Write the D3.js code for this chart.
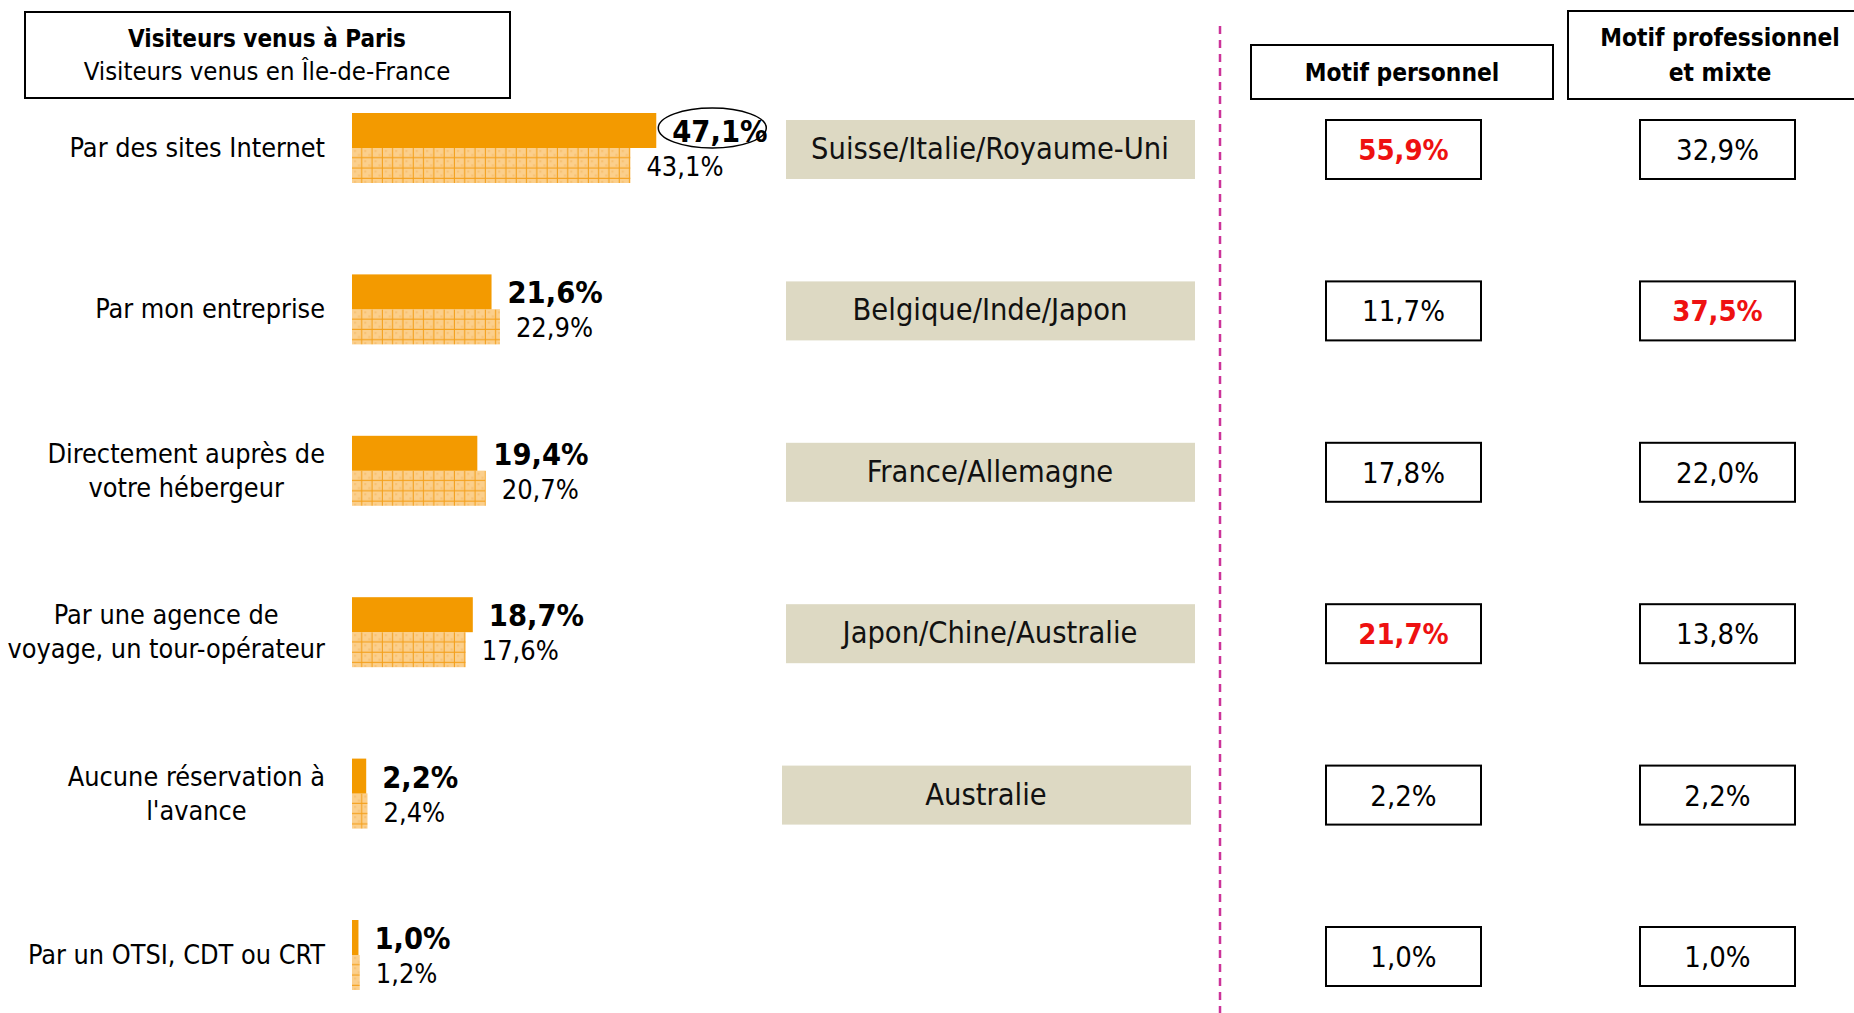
<html>

<script src="https://d3js.org/d3.v7.min.js"></script>

<style>
    body {
        margin: 0;
        background: #fff;
    }

    svg {
        display: block;
        font-family: "DejaVu Sans Condensed", "DejaVu Sans", sans-serif;
        font-stretch: condensed;
    }

    .box {
        fill: #fff;
        stroke: #000;
        stroke-width: 2px;
    }

    .solid {
        fill: #f39a00;
    }

    .pays rect {
        fill: #ddd9c3;
    }

    .sep {
        stroke: #cc3399;
        stroke-width: 2.5px;
        stroke-dasharray: 8 6;
    }
</style>

<svg width=1854 height=1013></svg>

<script>

    let categories = [
        "Par des sites Internet",
        "Par mon entreprise",
        "Directement auprès de\nvotre hébergeur",
        "Par une agence de\nvoyage, un tour-opérateur",
        "Aucune réservation à\nl'avance",
        "Par un OTSI, CDT ou CRT"
    ];
    let paris = [47.1, 21.6, 19.4, 18.7, 2.2, 1.0];
    let idf = [43.1, 22.9, 20.7, 17.6, 2.4, 1.2];
    let pays = ["Suisse/Italie/Royaume-Uni", "Belgique/Inde/Japon", "France/Allemagne", "Japon/Chine/Australie", "Australie", ""];
    let motifPerso = [55.9, 11.7, 17.8, 21.7, 2.2, 1.0];
    let motifPro = [32.9, 37.5, 22.0, 13.8, 2.2, 1.0];
    let persoRouge = [true, false, false, true, false, false];
    let proRouge = [false, true, false, false, false, false];
    let entoure = 0;   // valeur Paris entourée

    let svg = d3.select('svg');

    let fr = d3.formatLocale({decimal: ",", thousands: " ", grouping: [3], currency: ["", " €"]});
    let pct = v => fr.format(".1f")(v) + "%";

    let x = d3.scaleLinear().domain([0, 50]).range([352, 675]);
    let y = d3.scalePoint().domain(d3.range(categories.length)).range([148, 955]);

    // motif quadrillé des barres Île-de-France
    let defs = svg.append('defs');
    let pat = defs.append('pattern')
        .attr('id', 'grille')
        .attr('patternUnits', 'userSpaceOnUse')
        .attr('x', 352).attr('y', 0)
        .attr('width', 10.3).attr('height', 10.3);
    pat.append('rect').attr('width', 10.3).attr('height', 10.3).attr('fill', '#fbcf8c');
    pat.append('rect').attr('x', 2).attr('y', 2).attr('width', 2).attr('height', 2).attr('fill', '#f8c070');
    pat.append('rect').attr('x', 6).attr('y', 6).attr('width', 2).attr('height', 2).attr('fill', '#f8c070');
    pat.append('path').attr('d', 'M10.3,0V10.3M0,10.3H10.3')
        .attr('stroke', '#f4a11e').attr('stroke-width', 2.2).attr('fill', 'none');

    // en-tête gauche
    svg.append('rect').attr('class', 'box')
        .attr('x', 25).attr('y', 12).attr('width', 485).attr('height', 86);
    svg.append('text').attr('x', 267).attr('y', 47)
        .attr('text-anchor', 'middle').attr('font-size', 24).attr('font-weight', 'bold')
        .text('Visiteurs venus à Paris');
    svg.append('text').attr('x', 267).attr('y', 80)
        .attr('text-anchor', 'middle').attr('font-size', 25.5)
        .text('Visiteurs venus en Île-de-France');

    // en-têtes droite
    svg.append('rect').attr('class', 'box')
        .attr('x', 1251).attr('y', 45).attr('width', 302).attr('height', 54);
    svg.append('text').attr('x', 1402).attr('y', 81)
        .attr('text-anchor', 'middle').attr('font-size', 24.3).attr('font-weight', 'bold')
        .text('Motif personnel');
    svg.append('rect').attr('class', 'box')
        .attr('x', 1568).attr('y', 11).attr('width', 310).attr('height', 88);
    svg.append('text').attr('x', 1720).attr('y', 46)
        .attr('text-anchor', 'middle').attr('font-size', 24.3).attr('font-weight', 'bold')
        .text('Motif professionnel');
    svg.append('text').attr('x', 1720).attr('y', 81)
        .attr('text-anchor', 'middle').attr('font-size', 24.3).attr('font-weight', 'bold')
        .text('et mixte');

    // séparateur
    svg.append('line').attr('class', 'sep')
        .attr('x1', 1220).attr('x2', 1220).attr('y1', 26).attr('y2', 1013);

    let rows = svg.selectAll('g.row')
        .data(categories)
        .enter().append('g')
        .attr('class', 'row')
        .attr('transform', (d, i) => 'translate(0,' + y(i) + ')');

    // libellés (bloc calé à droite, lignes centrées)
    rows.each(function(d) {
        let g = d3.select(this),
            lines = d.split('\n'),
            t = g.append('text').attr('font-size', 26.8).attr('text-anchor', 'middle');
        let dy0 = lines.length == 1 ? 9 : -8;
        lines.forEach((l, j) => t.append('tspan').attr('y', dy0 + j * 34).text(l));
        let w = d3.max(t.selectAll('tspan').nodes(), n => n.getComputedTextLength());
        t.selectAll('tspan').attr('x', 325 - w / 2);
    });

    // barres
    rows.append('rect').attr('class', 'solid')
        .attr('x', x(0)).attr('y', -35).attr('height', 35)
        .attr('width', (d, i) => x(paris[i]) - x(0));
    rows.append('rect')
        .attr('x', x(0)).attr('y', 0).attr('height', 35)
        .attr('fill', 'url(#grille)')
        .attr('width', (d, i) => x(idf[i]) - x(0));

    rows.append('text')
        .attr('x', (d, i) => x(paris[i]) + 16).attr('y', -6)
        .attr('font-size', 30.5).attr('font-weight', 'bold')
        .text((d, i) => pct(paris[i]));
    rows.append('text')
        .attr('x', (d, i) => x(idf[i]) + 16).attr('y', 28)
        .attr('font-size', 27)
        .text((d, i) => pct(idf[i]));

    rows.filter((d, i) => i == entoure).append('ellipse')
        .attr('cx', x(paris[entoure]) + 56).attr('cy', -20)
        .attr('rx', 54).attr('ry', 20)
        .attr('fill', 'none').attr('stroke', '#000').attr('stroke-width', 1.5);

    // pays
    let p = rows.filter((d, i) => pays[i] != '').append('g').attr('class', 'pays');
    p.append('rect')
        .attr('x', (d, i) => i == 4 ? 782 : 786).attr('y', -28).attr('width', 409).attr('height', 59);
    p.append('text')
        .attr('x', (d, i) => i == 4 ? 986 : 990).attr('y', 11)
        .attr('text-anchor', 'middle').attr('font-size', 30.5).attr('fill', '#111')
        .text((d, i) => pays[i]);

    // cellules motifs
    function cellules(vals, rouges, x0) {
        rows.append('rect').attr('class', 'box')
            .attr('x', x0).attr('y', -28).attr('width', 155).attr('height', 59);
        rows.append('text')
            .attr('x', x0 + 77.5).attr('y', 12)
            .attr('text-anchor', 'middle').attr('font-size', 29)
            .attr('font-weight', (d, i) => rouges[i] ? 'bold' : 'normal')
            .attr('fill', (d, i) => rouges[i] ? '#ee1111' : '#000')
            .text((d, i) => pct(vals[i]));
    }
    cellules(motifPerso, persoRouge, 1326);
    cellules(motifPro, proRouge, 1640);

</script>
</html>
